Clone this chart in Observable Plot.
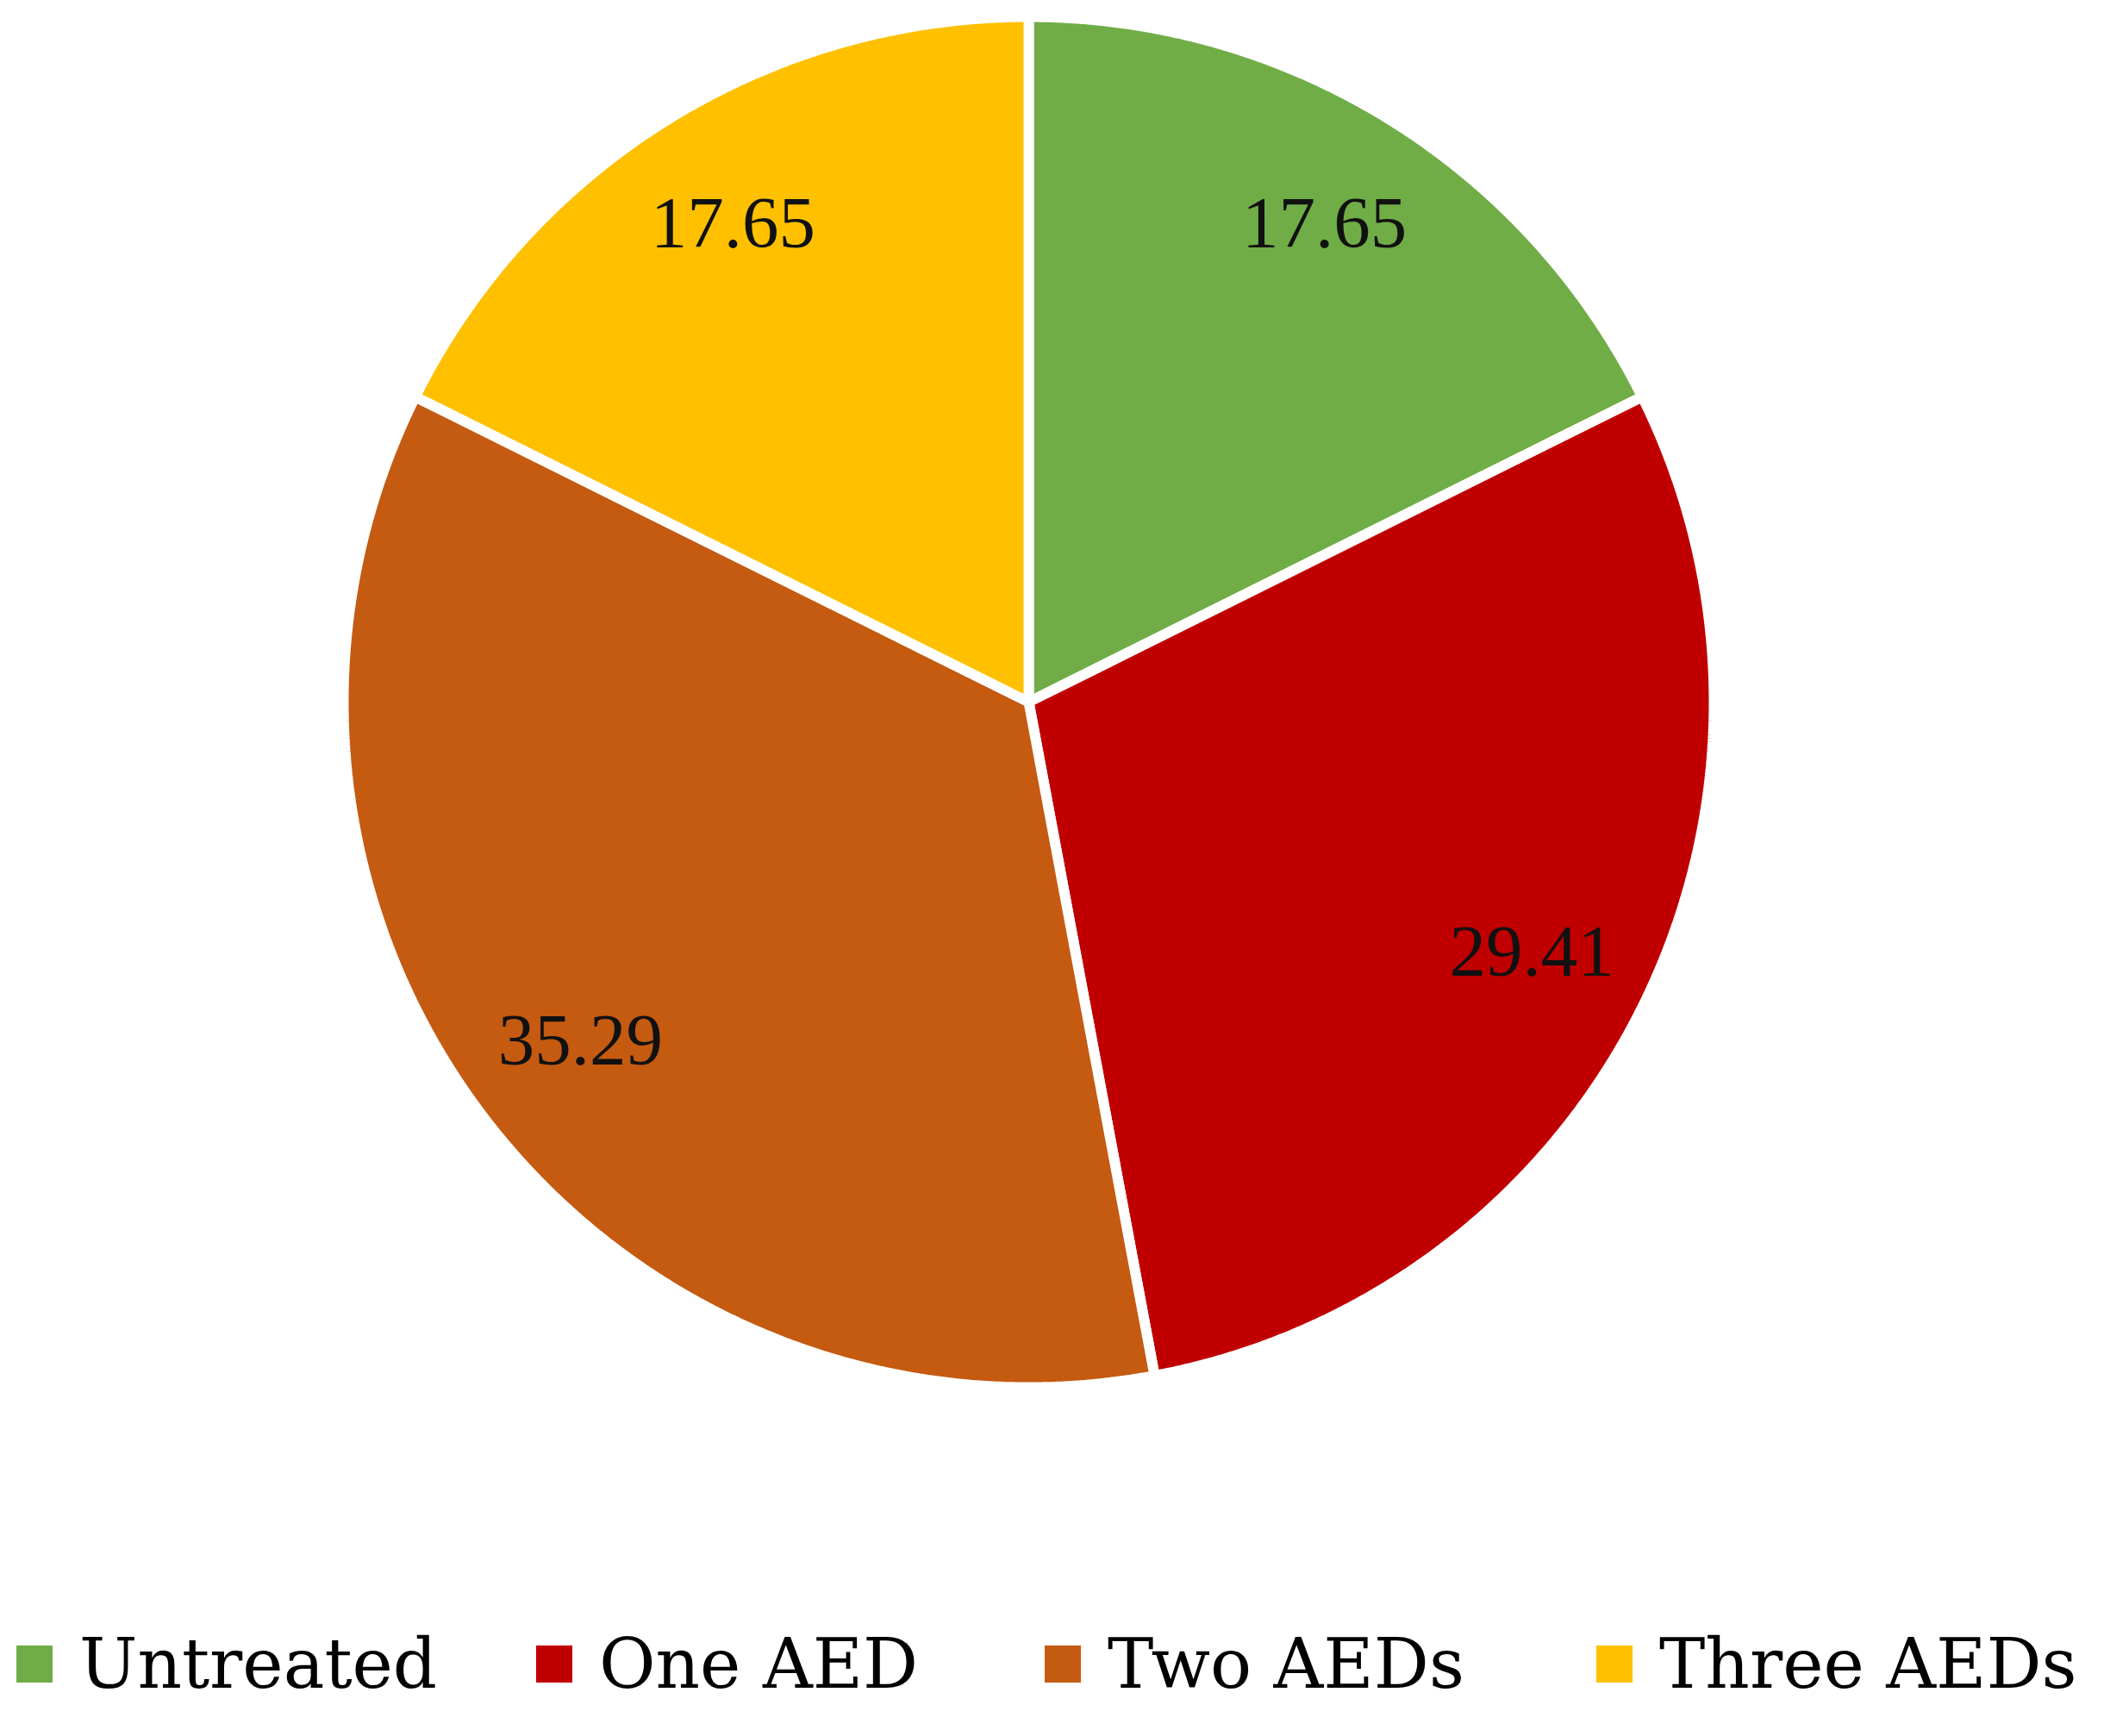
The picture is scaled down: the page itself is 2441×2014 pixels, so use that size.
<!DOCTYPE html>
<html>
<head>
<meta charset="utf-8">
<script src="https://cdn.jsdelivr.net/npm/d3@7"></script>
<script src="https://cdn.jsdelivr.net/npm/@observablehq/plot@0.6"></script>
<style>
  html, body { margin: 0; padding: 0; background: #fff; }
  #chart { position: relative; width: 2441px; height: 2014px; overflow: hidden; }
  #legend { position: absolute; left: 0; top: 1850px; width: 2441px; height: 164px; font-family: "DejaVu Serif", serif; font-size: 80px; color: #000; }
  .item { position: absolute; top: 0; height: 164px; }
  .sw { position: absolute; top: 59px; width: 42px; height: 43px; }
  .lab { position: absolute; left: 73px; top: 103px; transform: translateY(-78%); white-space: nowrap; line-height: 1; }
</style>
</head>
<body>
<div id="chart"></div>
<script>
const categories = ["Untreated", "One AED", "Two AEDs", "Three AEDs"];
const values = [17.65, 29.41, 35.29, 17.65];
const labels = ["17.65", "29.41", "35.29", "17.65"];
const colors = ["#70AD47", "#C00000", "#C55A11", "#FFC000"];

const W = 2441, H = 1850;
const cx = 1193, cy = 814, r = 795;

// Build slice polygons (unit circle) from values
const total = d3.sum(values);
const slices = [];
const labelRows = [];
let acc = 0;
values.forEach((v, i) => {
  const a0 = acc / total * 2 * Math.PI;
  const a1 = (acc + v) / total * 2 * Math.PI;
  acc += v;
  slices.push({cat: categories[i], x: 0, y: 0});
  const n = Math.max(2, Math.ceil((a1 - a0) / 0.005));
  for (let k = 0; k <= n; k++) {
    const a = a0 + (a1 - a0) * k / n;
    slices.push({cat: categories[i], x: Math.sin(a), y: -Math.cos(a)});
  }
  const am = (a0 + a1) / 2;
  labelRows.push({cat: categories[i], label: labels[i], x: 0.82 * Math.sin(am), y: -0.82 * Math.cos(am)});
});

const plot = Plot.plot({
  width: W,
  height: H,
  margin: 0,
  x: {domain: [-1, 1], range: [cx - r, cx + r], axis: null},
  y: {domain: [-1, 1], range: [cy - r, cy + r], axis: null},
  color: {domain: categories, range: colors},
  style: {background: "#fff"},
  marks: [
    Plot.line(slices, {x: "x", y: "y", z: "cat", fill: "cat", stroke: "white", strokeWidth: 12, strokeLinejoin: "miter", curve: "linear-closed"}),
    Plot.text(labelRows, {x: "x", y: "y", text: "label", fill: "#111", fontSize: 85, fontFamily: "Liberation Serif, serif", textAnchor: "middle", lineAnchor: "middle"})
  ]
});

const chart = document.getElementById("chart");
chart.appendChild(plot);

const legend = document.createElement("div");
legend.id = "legend";
const lefts = [19, 622, 1212, 1852];
categories.forEach((c, i) => {
  const it = document.createElement("div");
  it.className = "item";
  it.style.left = lefts[i] + "px";
  const sw = document.createElement("div");
  sw.className = "sw";
  sw.style.background = colors[i];
  const lab = document.createElement("span");
  lab.className = "lab";
  lab.textContent = c;
  it.appendChild(sw);
  it.appendChild(lab);
  legend.appendChild(it);
});
chart.appendChild(legend);
</script>
</body>
</html>
